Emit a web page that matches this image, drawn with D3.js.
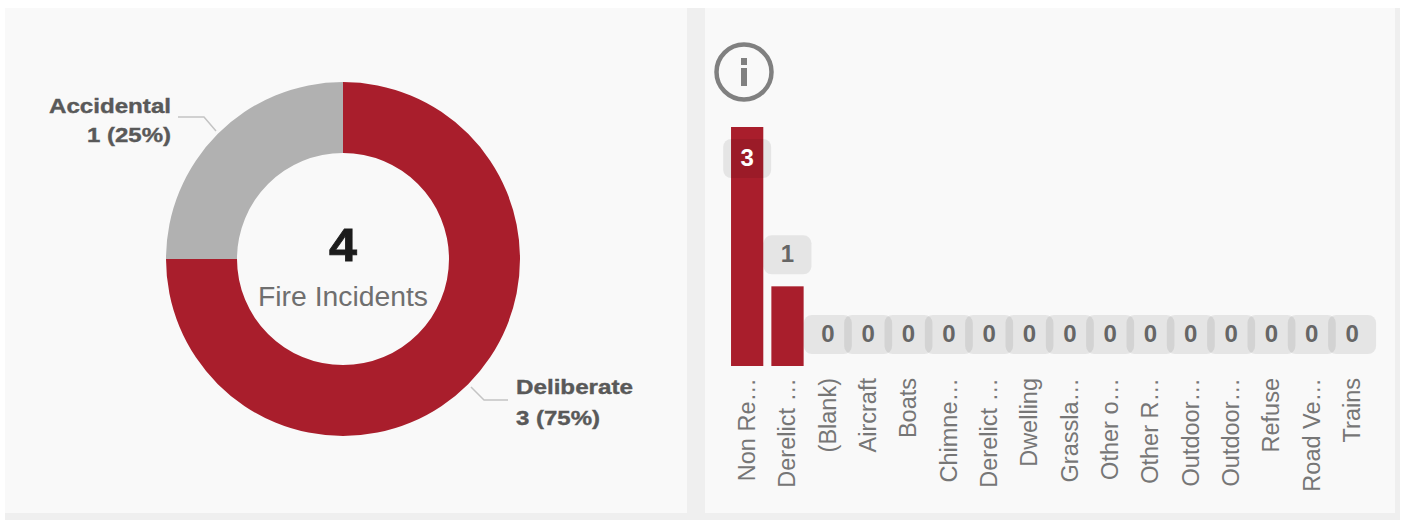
<!DOCTYPE html>
<html><head><meta charset="utf-8">
<script src="https://cdn.jsdelivr.net/npm/d3@7/dist/d3.min.js"></script>
<style>html,body{margin:0;padding:0;background:#fff}svg{display:block}text{font-family:"Liberation Sans",Arial,sans-serif}</style>
</head><body><svg id="c" width="1405" height="520"></svg>
<script>
const donutLabels=["Deliberate","Accidental"];
const donutValues=[3,1];
const donutColors=["#a91e2c","#b1b1b1"];
const categories=["Non Re…","Derelict …","(Blank)","Aircraft","Boats","Chimne…","Derelict …","Dwelling","Grassla…","Other o…","Other R…","Outdoor…","Outdoor…","Refuse","Road Ve…","Trains"];
const barValues=[3,1,0,0,0,0,0,0,0,0,0,0,0,0,0,0];
const centerValue="4", centerLabel="Fire Incidents";

const svg=d3.select("#c");
svg.append("rect").attr("x",0).attr("y",8).attr("width",1400).attr("height",512).attr("fill","#efefef");
svg.append("rect").attr("x",0).attr("y",8).attr("width",5).attr("height",512).attr("fill","#fff");
svg.append("rect").attr("x",5).attr("y",8).attr("width",682).attr("height",505).attr("fill","#f9f9f9");
svg.append("rect").attr("x",705).attr("y",8).attr("width",690).attr("height",505).attr("fill","#f9f9f9");

// donut
const cx=343,cy=259;
const pie=d3.pie().sort(null)(donutValues);
const arc=d3.arc().innerRadius(106).outerRadius(177);
const g=svg.append("g").attr("transform",`translate(${cx},${cy})`);
g.selectAll("path").data(pie).join("path").attr("d",arc).attr("fill",(d,i)=>donutColors[i]);
svg.append("text").attr("x",cx).attr("y",261).attr("text-anchor","middle").attr("font-size",46).attr("font-weight",700).attr("fill","#1c1c1c").attr("stroke","#1c1c1c").attr("stroke-width",0.8).attr("textLength",28).attr("lengthAdjust","spacingAndGlyphs").text(centerValue);
svg.append("text").attr("x",cx).attr("y",306).attr("text-anchor","middle").attr("font-size",27).attr("fill","#6f6f6f").attr("textLength",170).attr("lengthAdjust","spacingAndGlyphs").text(centerLabel);

// donut leaders and labels
const line=d3.line();
const leaderPts=[[[216,131],[204,117],[178,117]],[[471,387],[484,400],[508,400]]];
leaderPts.forEach(p=>svg.append("path").attr("d",line(p)).attr("fill","none").attr("stroke","#c4c4c4").attr("stroke-width",1.5));
const lab=(x,y,a,t,w)=>svg.append("text").attr("x",x).attr("y",y).attr("text-anchor",a).attr("font-size",21).attr("font-weight",700).attr("fill","#595959").attr("stroke","#595959").attr("stroke-width",0.4).attr("textLength",w).attr("lengthAdjust","spacingAndGlyphs").text(t);
const pct=i=>`${donutValues[i]} (${Math.round(donutValues[i]/d3.sum(donutValues)*100)}%)`;
lab(171,113,"end",donutLabels[1],122);
lab(171,142,"end",pct(1),84);
lab(516,394,"start",donutLabels[0],117);
lab(516,425,"start",pct(0),84);

// info icon
svg.append("circle").attr("cx",744).attr("cy",72).attr("r",27.5).attr("fill","none").attr("stroke","#808080").attr("stroke-width",4.5);
svg.append("rect").attr("x",741).attr("y",68).attr("width",6).attr("height",18).attr("fill","#808080");
svg.append("rect").attr("x",741).attr("y",58).attr("width",6).attr("height",7).attr("fill","#808080");

// bars (band scale keyed by position because two truncated labels repeat)
const step=40.33;
const idx=categories.map((c,i)=>i);
const x=d3.scaleBand().domain(idx).range([727,727+step*16]).paddingInner(0.2).paddingOuter(0.1);
const y=d3.scaleLinear().domain([0,3]).range([366,127]);
svg.selectAll(".bar").data(barValues).join("rect").attr("class","bar")
 .attr("x",(d,i)=>x(i)).attr("y",d=>y(d)).attr("width",x.bandwidth()).attr("height",d=>y(0)-y(d)).attr("fill","#a91e2c");
const cxb=i=>x(i)+x.bandwidth()/2;
const pillY=d=>d===3?139:y(d)-51;
svg.selectAll(".pill").data(barValues).join("rect").attr("class","pill")
 .attr("x",(d,i)=>cxb(i)-24).attr("y",pillY).attr("width",48).attr("height",39).attr("rx",8)
 .attr("fill","#000").attr("fill-opacity",0.08);
svg.selectAll(".val").data(barValues).join("text").attr("class","val")
 .attr("x",(d,i)=>cxb(i)).attr("y",d=>pillY(d)+27).attr("text-anchor","middle").attr("font-size",24).attr("font-weight",700)
 .attr("fill",d=>d===3?"#fff":"#666").text(d=>d);
svg.selectAll(".tick").data(categories).join("text").attr("class","tick")
 .attr("transform",(d,i)=>`translate(${cxb(i)+8},378) rotate(-90)`)
 .attr("text-anchor","end").attr("font-size",23.5).attr("fill","#767676").text(d=>d);
</script></body></html>
